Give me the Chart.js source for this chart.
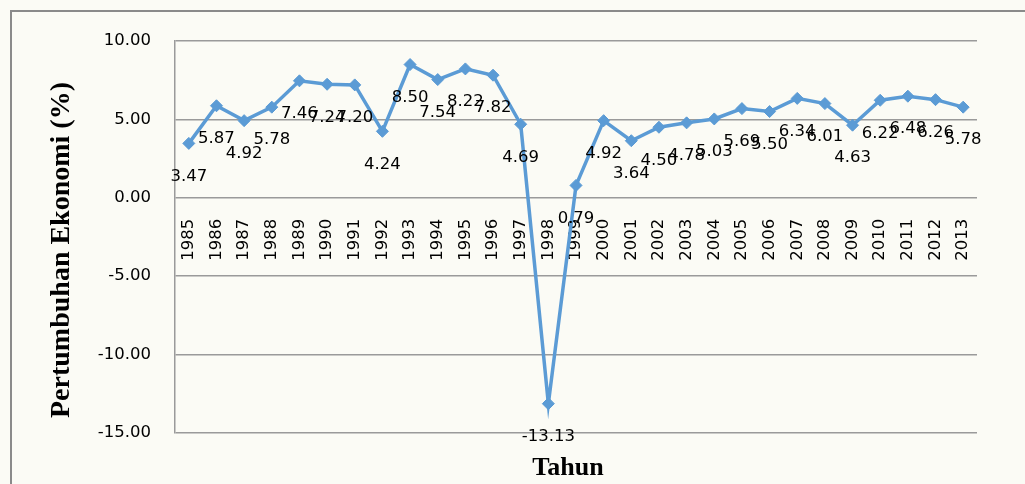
<!DOCTYPE html>
<html>
<head>
<meta charset="utf-8">
<title>Pertumbuhan Ekonomi</title>
<script src="https://cdn.jsdelivr.net/npm/chart.js@4/dist/chart.umd.min.js"></script>
<style>
    html, body { margin: 0; padding: 0; background: #fbfbf5; overflow: hidden; }
    #chart { display: block; }
</style>
</head>
<body>
<canvas id="chart" width="1025" height="484"></canvas>
<script>
// Daten: Pertumbuhan Ekonomi (%) per Tahun
const years = ['1985', '1986', '1987', '1988', '1989', '1990', '1991', '1992', '1993', '1994',
    '1995', '1996', '1997', '1998', '1999', '2000', '2001', '2002', '2003', '2004',
    '2005', '2006', '2007', '2008', '2009', '2010', '2011', '2012', '2013'];
const growth = [3.47, 5.87, 4.92, 5.78, 7.46, 7.24, 7.20, 4.24, 8.50, 7.54,
    8.22, 7.82, 4.69, -13.13, 0.79, 4.92, 3.64, 4.50, 4.78, 5.03,
    5.69, 5.50, 6.34, 6.01, 4.63, 6.22, 6.48, 6.26, 5.78];
const yTicks = [-15, -10, -5, 0, 5, 10];
const yTitle = 'Pertumbuhan Ekonomi (%)';
const xTitle = 'Tahun';

const blue = '#5b9bd5';
const gridGray = '#9a9a9a';

Chart.defaults.font.family = "'DejaVu Sans', sans-serif";
Chart.defaults.font.size = 16.5;
Chart.defaults.color = '#000';

// Hintergrund und Rahmen (nur oben und links sichtbar)
const frame = {
    id: 'frame',
    beforeDraw(chart) {
        const ctx = chart.ctx;
        ctx.save();
        ctx.fillStyle = '#fbfbf5';
        ctx.fillRect(0, 0, chart.width, chart.height);
        ctx.strokeStyle = '#8a8a8a';
        ctx.lineWidth = 2;
        ctx.beginPath();
        ctx.moveTo(11, chart.height);
        ctx.lineTo(11, 11);
        ctx.lineTo(chart.width, 11);
        ctx.stroke();
        ctx.restore();
    }
};

// Datenbeschriftungen unter jedem Punkt
const valueLabels = {
    id: 'valueLabels',
    afterDatasetsDraw(chart) {
        const ctx = chart.ctx;
        const meta = chart.getDatasetMeta(0);
        ctx.save();
        ctx.font = "16.5px 'DejaVu Sans'";
        ctx.fillStyle = '#000';
        ctx.textAlign = 'center';
        ctx.textBaseline = 'middle';
        meta.data.forEach((pt, i) => {
            ctx.fillText(growth[i].toFixed(2), pt.x, pt.y + 33);
        });
        ctx.restore();
    }
};

// Achsentitel (Times-ähnlich, fett)
const axisTitles = {
    id: 'axisTitles',
    afterDraw(chart) {
        const ctx = chart.ctx;
        const area = chart.chartArea;
        ctx.save();
        ctx.fillStyle = '#000';
        ctx.textAlign = 'center';
        ctx.textBaseline = 'middle';
        ctx.font = "bold 28px 'Liberation Serif'";
        ctx.translate(62, (area.top + area.bottom) / 2 + 13);
        ctx.rotate(-Math.PI / 2);
        ctx.fillText(yTitle, 0, 0);
        ctx.restore();

        ctx.save();
        ctx.fillStyle = '#000';
        ctx.textAlign = 'center';
        ctx.textBaseline = 'middle';
        ctx.font = "bold 26px 'Liberation Serif'";
        ctx.fillText(xTitle, (area.left + area.right) / 2 - 8, area.bottom + 35);
        ctx.restore();
    }
};

const ctx = document.getElementById('chart').getContext('2d');
new Chart(ctx, {
    type: 'line',
    data: {
        labels: years,
        datasets: [{
            label: yTitle,
            data: growth,
            borderColor: blue,
            backgroundColor: blue,
            borderWidth: 3.5,
            pointStyle: 'rectRot',
            pointRadius: 6,
            pointBorderWidth: 1,
            pointBackgroundColor: blue,
            pointBorderColor: blue,
            tension: 0
        }]
    },
    options: {
        responsive: false,
        animation: false,
        layout: { padding: { left: 0, top: 41, right: 48, bottom: 0 } },
        plugins: {
            legend: { display: false },
            tooltip: { enabled: false }
        },
        scales: {
            x: {
                axis: 'x',
                type: 'category',
                position: { y: 0 },
                offset: true,
                afterFit: (scale) => { scale.height = 0; },
                grid: { display: false, drawTicks: false },
                border: { display: false },
                ticks: {
                    autoSkip: false,
                    minRotation: 90,
                    maxRotation: 90,
                    padding: 21,
                    font: { size: 16.5 }
                }
            },
            xTitle: {
                axis: 'x',
                type: 'category',
                position: 'bottom',
                offset: true,
                afterFit: (scale) => { scale.height = 51; },
                grid: { display: false, drawTicks: false },
                border: { display: false },
                ticks: { display: false }
            },
            y: {
                min: -15,
                max: 10,
                afterFit: (scale) => { scale.width = 175; },
                afterBuildTicks: (scale) => { scale.ticks = yTicks.map(v => ({ value: v })); },
                grid: { color: gridGray, lineWidth: 1.5, drawTicks: false },
                border: { display: true, color: gridGray, width: 1.5 },
                ticks: {
                    padding: 24,
                    callback: (v) => Number(v).toFixed(2)
                }
            }
        }
    },
    plugins: [frame, valueLabels, axisTitles]
});
</script>
</body>
</html>
